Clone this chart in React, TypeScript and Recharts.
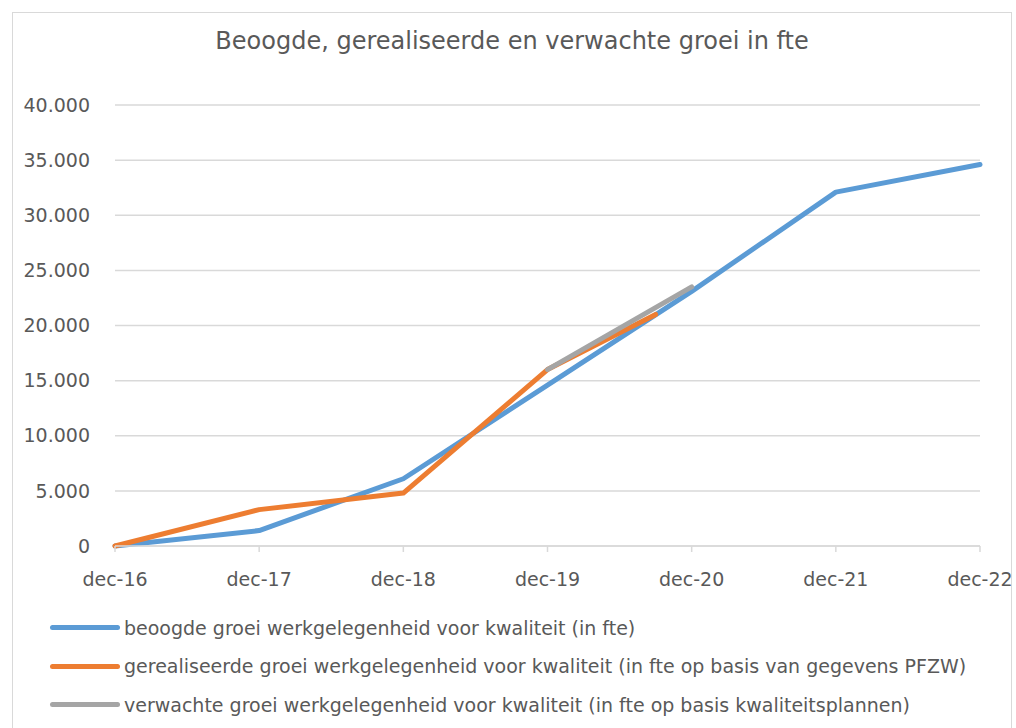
import { LineChart, Line, XAxis, YAxis, CartesianGrid } from 'recharts';

// x = months since dec-16
const tickLabels = ['dec-16', 'dec-17', 'dec-18', 'dec-19', 'dec-20', 'dec-21', 'dec-22'];
const tickMonths = [0, 12, 24, 36, 48, 60, 72];

const beoogdMonths = [0, 12, 24, 36, 48, 60, 72];
const beoogdValues = [0, 1400, 6100, 14600, 23100, 32100, 34600];

const gerealiseerdMonths = [0, 12, 24, 36, 45];
const gerealiseerdValues = [0, 3300, 4800, 16000, 21000];

const verwachtMonths = [36, 48];
const verwachtValues = [16000, 23500];

const yTicks = [0, 5000, 10000, 15000, 20000, 25000, 30000, 35000, 40000];

const FONT = '"DejaVu Sans", Verdana, sans-serif';
const TEXT = '#595959';

const series = [
  {
    name: 'beoogde groei werkgelegenheid voor kwaliteit (in fte)',
    color: '#5B9BD5',
    data: beoogdMonths.map((m, i) => ({ m, v: beoogdValues[i] })),
  },
  {
    name: 'gerealiseerde groei werkgelegenheid voor kwaliteit (in fte op basis van gegevens PFZW)',
    color: '#ED7D31',
    data: gerealiseerdMonths.map((m, i) => ({ m, v: gerealiseerdValues[i] })),
  },
  {
    name: 'verwachte groei werkgelegenheid voor kwaliteit (in fte op basis kwaliteitsplannen)',
    color: '#A5A5A5',
    data: verwachtMonths.map((m, i) => ({ m, v: verwachtValues[i] })),
  },
];

const formatThousands = (v: number) => String(v).replace(/\B(?=(\d{3})+(?!\d))/g, '.');

export default function App() {
  return (
    <div
      style={{
        position: 'absolute',
        left: 12,
        top: 12,
        width: 998,
        height: 720,
        border: '1px solid #d9d9d9',
        background: '#fff',
        fontFamily: FONT,
        color: TEXT,
      }}
    >
      <style>{'.recharts-surface { overflow: visible; }'}</style>
      <div
        style={{
          position: 'absolute',
          top: 14,
          left: 0,
          width: 998,
          textAlign: 'center',
          fontSize: 24,
        }}
      >
        Beoogde, gerealiseerde en verwachte groei in fte
      </div>
      <LineChart
        width={998}
        height={716}
        margin={{ top: 92, right: 31, left: 12, bottom: 153 }}
        style={{ fontFamily: FONT, overflow: 'visible' }}
      >
        <CartesianGrid vertical={false} stroke="#d9d9d9" strokeWidth={1.5} />
        <XAxis
          dataKey="m"
          type="number"
          domain={[0, 72]}
          ticks={tickMonths}
          tickFormatter={(m: number) => tickLabels[tickMonths.indexOf(m)]}
          axisLine={{ stroke: '#d9d9d9', strokeWidth: 1.5 }}
          tickLine={{ stroke: '#d9d9d9', strokeWidth: 1.5 }}
          tickSize={6}
          tickMargin={21}
          tick={{ fill: TEXT, fontSize: 19 }}
          interval={0}
          allowDuplicatedCategory={false}
        />
        <YAxis
          dataKey="v"
          domain={[0, 40000]}
          ticks={yTicks}
          width={90}
          axisLine={false}
          tickLine={false}
          tickSize={0}
          tickMargin={25}
          tick={{ fill: TEXT, fontSize: 19 }}
          tickFormatter={formatThousands}
          interval={0}
        />
        {series.map((s) => (
          <Line
            key={s.name}
            data={s.data}
            dataKey="v"
            name={s.name}
            type="linear"
            stroke={s.color}
            strokeWidth={5}
            strokeLinecap="round"
            strokeLinejoin="round"
            dot={false}
            activeDot={false}
            isAnimationActive={false}
          />
        ))}
      </LineChart>
      <div style={{ position: 'absolute', left: 37, top: 595.5 }}>
        {series.map((s) => (
          <div
            key={s.name}
            style={{ display: 'flex', alignItems: 'center', height: 38.5, fontSize: 19 }}
          >
            <div
              style={{
                width: 70,
                height: 5,
                borderRadius: 3,
                background: s.color,
                marginRight: 4,
              }}
            />
            <span style={{ whiteSpace: 'nowrap' }}>{s.name}</span>
          </div>
        ))}
      </div>
    </div>
  );
}
